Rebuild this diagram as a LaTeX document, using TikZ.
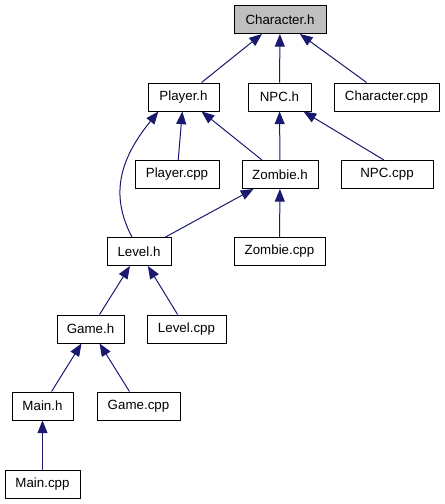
\documentclass[tikz,border=0pt]{standalone}
\usepackage{fontspec}
\setmainfont{Liberation Sans}
\usetikzlibrary{arrows.meta}
\definecolor{edgeblue}{HTML}{191970}
\definecolor{hilite}{HTML}{BFBFBF}

\begin{document}
\begin{tikzpicture}[x=0.75pt,y=0.75pt,font=\fontsize{10pt}{12pt}\selectfont,
  file/.style={draw=black,line width=0.75pt,fill=white,inner sep=0pt,minimum height=21pt},
  incl/.style={edgeblue,line width=0.75pt,-{Triangle[length=9.5pt,width=7.5pt]}}]
  \useasboundingbox (0,0) rectangle (444,-504);
  \node[file,fill=hilite,minimum width=69pt] (charh) at (280,-19.5) {Character.h};
  \node[file,minimum width=53.25pt] (playerh) at (183.5,-97) {Player.h};
  \node[file,minimum width=47.25pt] (npch) at (279.5,-97) {NPC.h};
  \node[file,minimum width=78.75pt] (charcpp) at (386.5,-97) {Character.cpp};
  \node[file,minimum width=63pt] (playercpp) at (177,-174.5) {Player.cpp};
  \node[file,minimum width=57pt] (zombieh) at (280,-174.5) {Zombie.h};
  \node[file,minimum width=69pt] (npccpp) at (387,-174.5) {NPC.cpp};
  \node[file,minimum width=48pt] (levelh) at (139,-251.5) {Level.h};
  \node[file,minimum width=68.25pt] (zombiecpp) at (279.5,-251.5) {Zombie.cpp};
  \node[file,minimum width=50.25pt] (gameh) at (90.5,-329) {Game.h};
  \node[file,minimum width=59.25pt] (levelcpp) at (186.5,-329) {Level.cpp};
  \node[file,minimum width=45.75pt] (mainh) at (42.5,-406) {Main.h};
  \node[file,minimum width=62.25pt] (gamecpp) at (138.5,-406) {Game.cpp};
  \node[file,minimum width=56.25pt] (maincpp) at (42.5,-484) {Main.cpp};
  % include edges
  \draw[incl] (playerh) -- (charh);
  \draw[incl] (npch) -- (charh);
  \draw[incl] (charcpp) -- (charh);
  \draw[incl] (playercpp) -- (playerh);
  \draw[incl] (zombieh) -- (playerh);
  \draw[incl] (levelh.116) .. controls +(-22,42) and +(-39,-48) .. (playerh.210);
  \draw[incl] (zombieh) -- (npch);
  \draw[incl] (npccpp.102) -- (npch);
  \draw[incl] (levelh) -- (zombieh);
  \draw[incl] (zombiecpp) -- (zombieh);
  \draw[incl] (gameh) -- (levelh);
  \draw[incl] (levelcpp) -- (levelh);
  \draw[incl] (mainh) -- (gameh);
  \draw[incl] (gamecpp) -- (gameh);
  \draw[incl] (maincpp) -- (mainh);
\end{tikzpicture}
\end{document}
